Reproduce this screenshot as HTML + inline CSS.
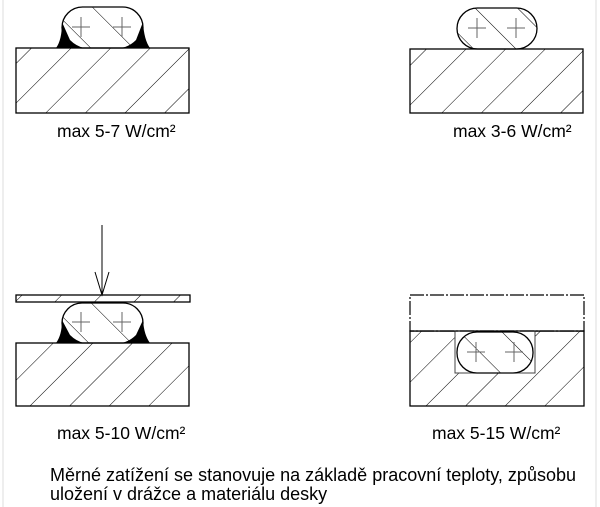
<!DOCTYPE html>
<html><head><meta charset="utf-8"><style>
body{margin:0;background:#fff;width:600px;height:507px;overflow:hidden}
svg{position:absolute;left:0;top:0}
text{font-family:"Liberation Sans",Arial,sans-serif;fill:#000}
</style></head><body>
<svg width="600" height="507" viewBox="0 0 600 507">
<defs>
<pattern id="hb" patternUnits="userSpaceOnUse" width="28" height="28" patternTransform="rotate(45)">
<line x1="0" y1="0" x2="0" y2="28" stroke="#000" stroke-width="1"/></pattern>
<pattern id="hc" patternUnits="userSpaceOnUse" width="30" height="30" patternTransform="rotate(-45)">
<line x1="0" y1="0" x2="0" y2="30" stroke="#000" stroke-width="1"/></pattern>
<g id="cross" stroke="#666" stroke-width="1"><line x1="-9" y1="0" x2="9" y2="0"/><line x1="0" y1="-10" x2="0" y2="10"/></g>
</defs>
<line x1="3" y1="0" x2="3" y2="507" stroke="#ddd"/>
<line x1="596" y1="0" x2="596" y2="507" stroke="#ddd"/>

<!-- panel 1 -->
<path d="M56 48 Q62 40 62 22 L70 40 Q76 46 84 48 Z M150 48 Q144 40 143 22 L136 40 Q130 46 122 48 Z" fill="#000"/>
<rect x="62" y="7" width="81" height="41" rx="20.5" fill="url(#hc)" stroke="#000" stroke-width="1.3"/>
<use href="#cross" x="81" y="27"/><use href="#cross" x="122" y="27"/>
<rect x="16" y="48" width="173" height="65" fill="url(#hb)" stroke="#000" stroke-width="1.3"/>
<text x="57" y="137" font-size="17.5">max 5-7 W/cm²</text>

<!-- panel 2 -->
<rect x="457" y="8" width="80" height="41" rx="20.5" fill="url(#hc)" stroke="#000" stroke-width="1.3"/>
<use href="#cross" x="477" y="28"/><use href="#cross" x="516" y="28"/>
<rect x="410" y="49" width="173" height="64" fill="url(#hb)" stroke="#000" stroke-width="1.3"/>
<text x="453" y="137" font-size="17.5">max 3-6 W/cm²</text>

<!-- panel 3 -->
<line x1="102" y1="225" x2="102" y2="295" stroke="#000"/>
<path d="M95 272 L102 295 L109 272" fill="none" stroke="#000"/>
<rect x="16" y="295" width="174" height="7" fill="url(#hb)" stroke="#000" stroke-width="1.3"/>
<path d="M56 343 Q62 335 62 320 L70 335 Q76 341 84 343 Z M150 343 Q144 335 143 320 L136 335 Q130 341 122 343 Z" fill="#000"/>
<rect x="62" y="303" width="81" height="40" rx="20" fill="url(#hc)" stroke="#000" stroke-width="1.3"/>
<use href="#cross" x="81" y="322"/><use href="#cross" x="122" y="322"/>
<rect x="16" y="343" width="173" height="63" fill="url(#hb)" stroke="#000" stroke-width="1.3"/>
<text x="57" y="439" font-size="17.5">max 5-10 W/cm²</text>

<!-- panel 4 -->
<rect x="410" y="331" width="174" height="75" fill="url(#hb)" stroke="#000" stroke-width="1.3"/>
<rect x="455" y="331" width="80" height="42" fill="#fff" stroke="#444" stroke-width="1"/>
<rect x="457" y="332" width="76" height="41" rx="20" fill="url(#hc)" stroke="#000" stroke-width="1.3"/>
<use href="#cross" x="476" y="352"/><use href="#cross" x="514" y="352"/>
<rect x="410" y="295" width="174" height="36" fill="#fff" stroke="#000" stroke-width="1.2" stroke-dasharray="14 2 2 2"/>
<line x1="410" y1="331" x2="584" y2="331" stroke="#000" stroke-width="1.2"/>
<text x="432" y="439" font-size="17.5">max 5-15 W/cm²</text>

<text x="50" y="481" font-size="18">Měrné zatížení se stanovuje na základě pracovní teploty, způsobu</text>
<text x="50" y="500" font-size="18">uložení v drážce a materiálu desky</text>
</svg>
</body></html>
